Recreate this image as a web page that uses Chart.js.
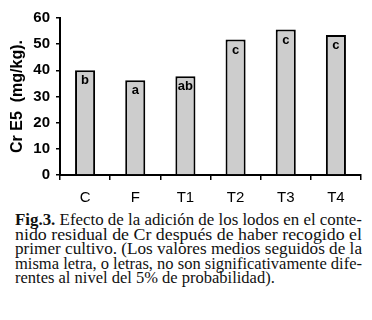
<!DOCTYPE html>
<html>
<head>
<meta charset="utf-8">
<script src="https://cdn.jsdelivr.net/npm/chart.js@4.4.1/dist/chart.umd.min.js"></script>
<style>
  body { margin: 0; background: #fff; }
  .wrap { position: relative; width: 372px; height: 320px; }
  .chart-box { position: absolute; left: 0; top: 0; width: 372px; height: 206px; }
  .caption {
    position: absolute; left: 15px; top: 213px; width: 347px;
    font-family: "Liberation Serif", "Times New Roman", serif;
    font-size: 16.5px; line-height: 14.6px; color: #111;
  }
  .caption div { width: 347px; height: 14.6px; white-space: nowrap; }
  .caption span { display: inline-block; transform-origin: 0 0; }
</style>
</head>
<body>
<div class="wrap">
  <div class="chart-box"><canvas id="c"></canvas></div>
  <div class="caption" id="cap">
    <div class="j"><span><b>Fig.3.</b> Efecto de la adición de los lodos en el conte-</span></div>
    <div class="j"><span>nido residual de Cr después de haber recogido el</span></div>
    <div class="j"><span>primer cultivo. (Los valores medios seguidos de la</span></div>
    <div class="j"><span>misma letra, o letras, no son significativamente dife-</span></div>
    <div><span>rentes al nivel del 5% de probabilidad).</span></div>
  </div>
</div>
<script>
// data
const treatments = ['C', 'F', 'T1', 'T2', 'T3', 'T4'];
const crValues = [40, 36.2, 37.7, 51.8, 55.6, 53.5];
const groupLetters = ['b', 'a', 'ab', 'c', 'c', 'c'];
const yTicks = [0, 10, 20, 30, 40, 50, 60];

// stretch or squeeze each full caption line so it fills the column like the printed text
document.querySelectorAll('#cap div.j span').forEach((s) => {
    const w = s.getBoundingClientRect().width;
    s.style.transform = 'scaleX(' + (347 / w) + ')';
});

// letters drawn just under the top of each bar
const letterPlugin = {
    id: 'letters',
    afterDatasetsDraw(chart) {
        const ctx = chart.ctx;
        const meta = chart.getDatasetMeta(0);
        ctx.save();
        ctx.font = 'bold 13px Arial, "Liberation Sans", sans-serif';
        ctx.fillStyle = '#000';
        ctx.textAlign = 'center';
        ctx.textBaseline = 'top';
        meta.data.forEach((bar, i) => {
            ctx.fillText(groupLetters[i], bar.x, bar.y + 4);
        });
        ctx.restore();
    }
};

new Chart(document.getElementById('c'), {
    type: 'bar',
    data: {
        labels: treatments,
        datasets: [{
            data: crValues,
            backgroundColor: '#cdcdcd',
            borderColor: '#000',
            borderWidth: 2,
            borderSkipped: 'bottom',
            barPercentage: 0.8,
            categoryPercentage: 0.5
        }]
    },
    options: {
        responsive: true,
        maintainAspectRatio: false,
        animation: false,
        layout: { padding: { top: 18, right: 11, left: 0, bottom: 0 } },
        plugins: { legend: { display: false }, tooltip: { enabled: false } },
        scales: {
            x: {
                grid: { drawOnChartArea: false, drawTicks: true, tickLength: 5, color: '#000', lineWidth: 1.5, offset: true },
                border: { color: '#000', width: 2 },
                ticks: { color: '#000', font: { family: 'Arial, "Liberation Sans", sans-serif', size: 15 }, padding: 9 },
                afterFit: (scale) => { scale.height = 31; }
            },
            y: {
                min: 0,
                max: 60,
                afterBuildTicks: (scale) => { scale.ticks = yTicks.map(v => ({ value: v })); },
                grid: { drawOnChartArea: false, drawTicks: true, tickLength: 4, color: '#000', lineWidth: 1.5 },
                border: { color: '#000', width: 2 },
                ticks: { color: '#000', font: { family: 'Arial, "Liberation Sans", sans-serif', size: 15, weight: 'bold' }, padding: 6 },
                title: {
                    display: true,
                    text: 'Cr E5  (mg/kg).',
                    color: '#000',
                    font: { family: 'Arial, "Liberation Sans", sans-serif', size: 16, weight: 'bold' },
                    padding: { top: 8, bottom: 0 }
                },
                afterFit: (scale) => { scale.width = 60; }
            }
        }
    },
    plugins: [letterPlugin]
});
</script>
</body>
</html>
